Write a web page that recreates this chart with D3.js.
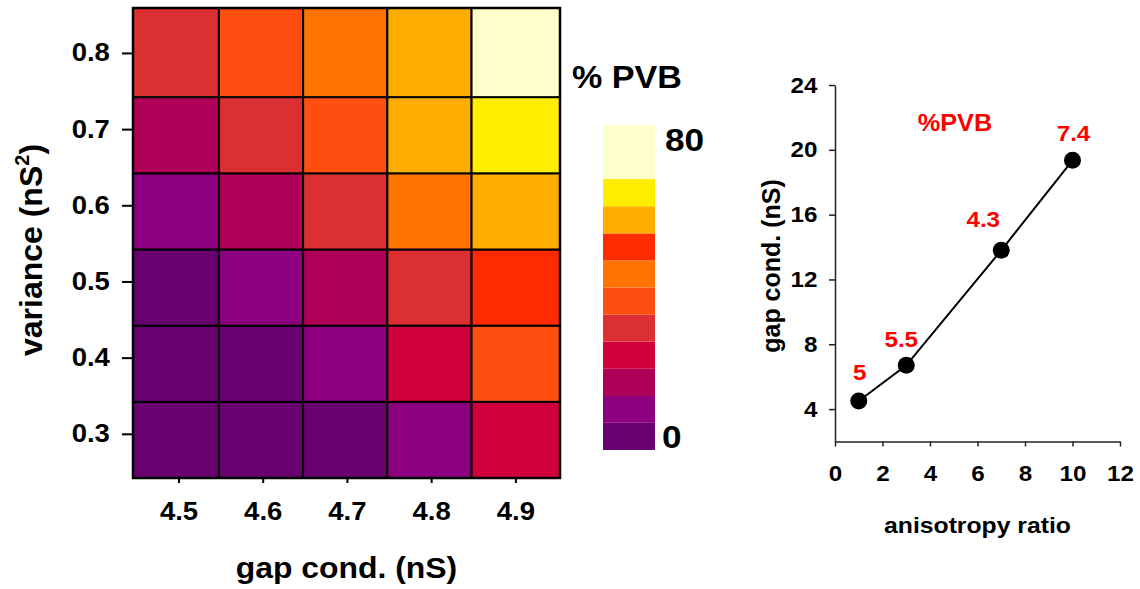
<!DOCTYPE html>
<html>
<head>
<meta charset="utf-8">
<script src="https://cdn.jsdelivr.net/npm/d3@7"></script>
<style>
body { margin: 0; background: #fff; }
text { font-family: "Liberation Sans", Arial, sans-serif; font-weight: bold; }
</style>
</head>
<body>
<svg id="fig" width="1140" height="589"></svg>
<script>
// heatmap: %PVB for each (variance, gap cond.)
const gapValues = [4.5, 4.6, 4.7, 4.8, 4.9];
const varianceValues = [0.3, 0.4, 0.5, 0.6, 0.7, 0.8];
// one row per variance (0.3 first), one column per gap cond.
const pvbRows = [
    [1, 2, 3, 8, 22],
    [2, 3, 11, 24, 38],
    [4, 9, 18, 30, 50],
    [10, 16, 31, 44, 58],
    [17, 29, 37, 56, 64],
    [30, 36, 43, 57, 76]
];
const pvbBreaks = [0, 6.7, 13.3, 20, 26.7, 33.3, 40, 46.7, 53.3, 60, 66.7, 80];
const pvbColors = ['#690070', '#8c007f', '#af0058', '#d0003c', '#dc2f32', '#ff4f10',
                   '#ff7300', '#ff2b00', '#ffad00', '#ffee00', '#ffffcc'];
const legendTicks = [0, 80];

// right panel: gap cond. needed vs anisotropy ratio, with %PVB at each point
const anisotropy = [1, 3, 7, 10];
const gapCond = [4.5, 6.7, 13.8, 19.35];
const pvbAtPoint = ['5', '5.5', '4.3', '7.4'];
const xTicksRight = [0, 2, 4, 6, 8, 10, 12];
const yTicksRight = [4, 8, 12, 16, 20, 24];

const SX = 1.1; // the figure is a bit wider than tall, stretch text to match
const svg = d3.select('#fig');

function label(g, x, y, str, size, anchor) {
    return g.append('text')
        .attr('transform', `translate(${x},${y}) scale(${SX},1)`)
        .attr('text-anchor', anchor || 'middle')
        .attr('font-size', size)
        .text(str);
}

///
/// HEATMAP
///
const xHeat = d3.scaleLinear().domain([4.446, 4.953]).range([133, 560]);
const yHeat = d3.scaleLinear().domain([0.242, 0.859]).range([478, 8]);

// cell edges: halfway between values (image() style), outer cells run to the frame
function edges(vals, domain, shift) {
    const e = [domain[0]];
    for (let i = 1; i < vals.length; i++) e.push((vals[i - 1] + vals[i]) / 2 + shift);
    e.push(domain[1]);
    return e;
}
const xEdges = edges(gapValues, xHeat.domain(), -0.002);
const yEdges = edges(varianceValues, yHeat.domain(), -0.008);

const colorOf = d3.scaleThreshold()
    .domain(pvbBreaks.slice(1, -1))
    .range(pvbColors);

const cells = [];
pvbRows.forEach((row, i) => row.forEach((v, j) => cells.push({ i, j, v })));

const heat = svg.append('g');
heat.selectAll('rect')
    .data(cells)
    .join('rect')
    .attr('x', d => xHeat(xEdges[d.j]))
    .attr('width', d => xHeat(xEdges[d.j + 1]) - xHeat(xEdges[d.j]))
    .attr('y', d => yHeat(yEdges[d.i + 1]))
    .attr('height', d => yHeat(yEdges[d.i]) - yHeat(yEdges[d.i + 1]))
    .attr('fill', d => colorOf(d.v))
    .attr('stroke', '#000')
    .attr('stroke-width', 2);

heat.append('rect')
    .attr('x', xHeat.range()[0]).attr('y', yHeat.range()[1])
    .attr('width', xHeat.range()[1] - xHeat.range()[0])
    .attr('height', yHeat.range()[0] - yHeat.range()[1])
    .attr('fill', 'none').attr('stroke', '#000').attr('stroke-width', 2.5);

const yAxisHeat = svg.append('g')
    .attr('transform', `translate(${xHeat.range()[0]},0)`)
    .call(d3.axisLeft(yHeat).tickValues(varianceValues).tickSize(11).tickFormat(d3.format('.1f')));
const xAxisHeat = svg.append('g')
    .attr('transform', `translate(0,${yHeat.range()[0]})`)
    .call(d3.axisBottom(xHeat).tickValues(gapValues).tickSize(5).tickFormat(d3.format('.1f')));

[yAxisHeat, xAxisHeat].forEach(a => {
    a.select('.domain').remove();
    a.selectAll('.tick line').attr('stroke', '#000').attr('stroke-width', 2);
    a.selectAll('.tick text')
        .attr('font-family', '"Liberation Sans", Arial, sans-serif')
        .attr('font-size', 25).attr('fill', '#000')
        .attr('transform', `scale(${SX},1)`);
});
yAxisHeat.selectAll('.tick text').attr('x', -21);
xAxisHeat.selectAll('.tick text').attr('y', 42).attr('dy', 0);

label(svg, (xHeat.range()[0] + xHeat.range()[1]) / 2, 578, 'gap cond. (nS)', 29);

const yTitle = svg.append('text')
    .attr('transform', 'translate(42,250) rotate(-90)')
    .attr('text-anchor', 'middle')
    .attr('font-size', 32);
yTitle.append('tspan').text('variance (nS');
yTitle.append('tspan').attr('font-size', 20).attr('dy', -13).text('2');
yTitle.append('tspan').attr('dy', 13).text(')');

// legend
const legendY = d3.scaleLinear().domain([0, 80]).range([450, 125]);
svg.append('g').selectAll('rect')
    .data(pvbColors)
    .join('rect')
    .attr('x', 603).attr('width', 52)
    .attr('y', (d, i) => legendY(pvbBreaks[i + 1]))
    .attr('height', (d, i) => legendY(pvbBreaks[i]) - legendY(pvbBreaks[i + 1]))
    .attr('fill', d => d);

label(svg, 572, 88, '% PVB', 31, 'start');
label(svg, 665, legendY(legendTicks[1]) + 26, legendTicks[1], 32, 'start');
label(svg, 662, legendY(legendTicks[0]) - 2, legendTicks[0], 32, 'start');

///
/// RIGHT PANEL
///
const xR = d3.scaleLinear().domain([0, 12]).range([835, 1120]);
const yR = d3.scaleLinear().domain([2, 24]).range([441.5, 85]);

const xAxisR = svg.append('g')
    .attr('transform', `translate(0,${yR.range()[0]})`)
    .call(d3.axisBottom(xR).tickValues(xTicksRight).tickSize(5).tickSizeOuter(0));
const yAxisR = svg.append('g')
    .attr('transform', `translate(${xR.range()[0]},0)`)
    .call(d3.axisLeft(yR).tickValues(yTicksRight).tickSize(6).tickSizeOuter(0));

[xAxisR, yAxisR].forEach(a => {
    a.select('.domain').attr('stroke', '#222').attr('stroke-width', 1.5);
    a.selectAll('.tick line').attr('stroke', '#222').attr('stroke-width', 1.5);
    a.selectAll('.tick text')
        .attr('font-family', '"Liberation Sans", Arial, sans-serif')
        .attr('font-size', 22).attr('fill', '#000')
        .attr('transform', `scale(${SX},1)`);
});
xAxisR.selectAll('.tick text').attr('y', 39.5).attr('dy', 0);
yAxisR.selectAll('.tick text').attr('x', -16);

const pts = anisotropy.map((a, i) => ({ a, g: gapCond[i], lab: pvbAtPoint[i] }));

svg.append('path')
    .datum(pts)
    .attr('fill', 'none')
    .attr('stroke', '#000')
    .attr('stroke-width', 2)
    .attr('d', d3.line().x(d => xR(d.a)).y(d => yR(d.g)));

svg.append('g').selectAll('circle')
    .data(pts)
    .join('circle')
    .attr('cx', d => xR(d.a))
    .attr('cy', d => yR(d.g))
    .attr('r', 8.5)
    .attr('fill', '#000');

// label offsets from each point
const labelOffsets = [[1, -21], [-5, -18], [-18, -23], [1, -19]];
pts.forEach((d, i) => {
    label(svg, xR(d.a) + labelOffsets[i][0], yR(d.g) + labelOffsets[i][1], d.lab, 22)
        .attr('fill', '#ff0000');
});
label(svg, 955, 131, '%PVB', 23).attr('fill', '#ff0000');

label(svg, (xR.range()[0] + xR.range()[1]) / 2, 533, 'anisotropy ratio', 22.5);
svg.append('text')
    .attr('transform', 'translate(780,266) rotate(-90)')
    .attr('text-anchor', 'middle')
    .attr('font-size', 25)
    .text('gap cond. (nS)');
</script>
</body>
</html>
